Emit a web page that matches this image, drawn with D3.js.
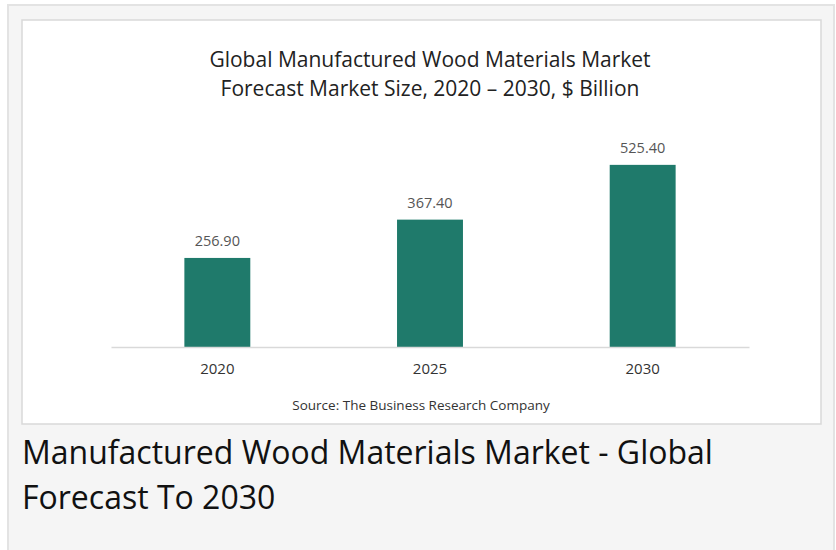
<!DOCTYPE html>
<html>
<head>
    <meta charset="utf-8">
    <title>Manufactured Wood Materials Market</title>
    <style>
        body { margin: 0; background: #ffffff; }
        svg { display: block; font-family: "Open Sans", sans-serif; }
    </style>
    <script src="https://d3js.org/d3.v7.min.js"></script>
</head>
<body>
<div id="chart"></div>
<script>
    // data
    const years = ["2020", "2025", "2030"];
    const marketSize = [256.9, 367.4, 525.4];
    const titleLines = ["Global Manufactured Wood Materials Market", "Forecast Market Size, 2020 \u2013 2030, $ Billion"];
    const headingLines = ["Manufactured Wood Materials Market - Global", "Forecast To 2030"];
    const sourceText = "Source: The Business Research Company";

    const W = 836, H = 550;
    const svg = d3.select("#chart").append("svg")
        .attr("width", W)
        .attr("height", H);

    // grey outer panel
    svg.append("rect")
        .attr("x", 8).attr("y", 5)
        .attr("width", 826).attr("height", 560)
        .attr("fill", "#f5f5f5")
        .attr("stroke", "#e3e3e3")
        .attr("stroke-width", 2);

    // white chart box
    svg.append("rect")
        .attr("x", 22).attr("y", 20)
        .attr("width", 799).attr("height", 404)
        .attr("fill", "#ffffff")
        .attr("stroke", "#d9d9d9")
        .attr("stroke-width", 1.5);

    // title
    svg.append("g").selectAll("text")
        .data(titleLines)
        .join("text")
        .attr("x", 430)
        .attr("y", (d, i) => 67 + i * 29)
        .attr("text-anchor", "middle")
        .attr("font-size", 21)
        .attr("fill", "#222")
        .text(d => d);

    const x = d3.scaleBand()
        .domain(years)
        .range([111, 749])
        .paddingInner(0.69)
        .paddingOuter(0.345);

    const y = d3.scaleLinear()
        .domain([0, 600])
        .range([347, 139]);

    // bars
    svg.append("g").selectAll("rect")
        .data(marketSize)
        .join("rect")
        .attr("x", (d, i) => x(years[i]))
        .attr("y", d => y(d))
        .attr("width", x.bandwidth())
        .attr("height", d => y(0) - y(d))
        .attr("fill", "#1f7a6b");

    // value labels
    svg.append("g").selectAll("text")
        .data(marketSize)
        .join("text")
        .attr("x", (d, i) => x(years[i]) + x.bandwidth() / 2)
        .attr("y", d => y(d) - 12)
        .attr("text-anchor", "middle")
        .attr("font-size", 14.5)
        .attr("fill", "#555")
        .text(d => d3.format(".2f")(d));

    // x axis
    const xAxis = svg.append("g")
        .attr("transform", `translate(0,${y(0)})`)
        .call(d3.axisBottom(x).tickSize(0).tickPadding(16));
    xAxis.select(".domain").attr("stroke", "#d9d9d9").attr("stroke-width", 1.5);
    xAxis.selectAll("text")
        .attr("font-family", "Open Sans, sans-serif")
        .attr("font-size", 15)
        .attr("fill", "#333");

    // source
    svg.append("text")
        .attr("x", 421)
        .attr("y", 410)
        .attr("text-anchor", "middle")
        .attr("font-size", 13.5)
        .attr("fill", "#333")
        .text(sourceText);

    // page heading under the chart
    svg.append("g").selectAll("text")
        .data(headingLines)
        .join("text")
        .attr("x", 22)
        .attr("y", (d, i) => 464 + i * 45)
        .attr("font-size", 32)
        .attr("fill", "#111")
        .text(d => d);
</script>
</body>
</html>
